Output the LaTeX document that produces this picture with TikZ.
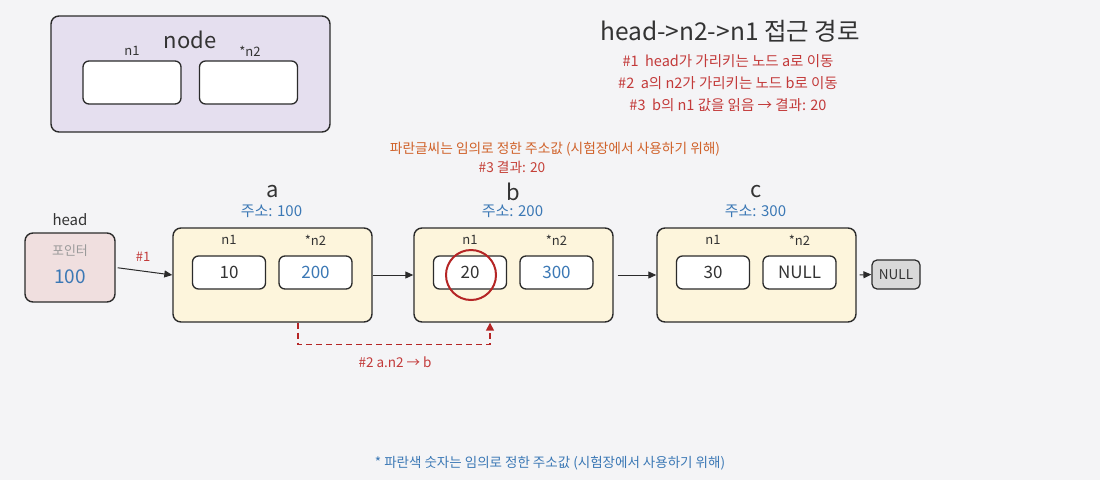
\documentclass[tikz,border=0pt]{standalone}
\usepackage{fontspec}
\setmainfont{Noto Sans CJK KR}
\usetikzlibrary{arrows.meta, positioning}

\definecolor{bgGray}{HTML}{F4F4F6}
\definecolor{lineDark}{HTML}{2B2B2B}
\definecolor{lavFill}{HTML}{E5DFEF}
\definecolor{creamFill}{HTML}{FDF5DC}
\definecolor{pinkFill}{HTML}{F0DFDF}
\definecolor{nullFill}{HTML}{D9D9D9}
\definecolor{addrBlue}{HTML}{3B78B5}
\definecolor{noteRed}{HTML}{C33A3A}
\definecolor{hitRed}{HTML}{B52525}
\definecolor{noteOrange}{HTML}{D0622A}
\definecolor{textDark}{HTML}{333333}
\definecolor{textGray}{HTML}{9A9A9A}

\begin{document}
\begin{tikzpicture}[x=1pt, y=-1pt,
		box/.style={draw=lineDark, line width=1.4pt, rounded corners=8pt},
		nodebox/.style={box, fill=creamFill, minimum width=199pt, minimum height=94pt},
		cell/.style={draw=lineDark, line width=1.3pt, rounded corners=6pt, fill=white,
			minimum width=73pt, minimum height=33pt, inner sep=0pt,
			font=\fontsize{17}{20}\selectfont},
		fieldlbl/.style={text=textDark, inner sep=0pt, font=\fontsize{13}{15}\selectfont},
		namelbl/.style={text=textDark, inner sep=0pt, font=\fontsize{22}{26}\selectfont},
		addrlbl/.style={text=addrBlue, inner sep=0pt, font=\fontsize{15}{18}\selectfont},
		redlbl/.style={text=noteRed, inner sep=0pt, font=\fontsize{14.5}{17}\selectfont},
		arr/.style={draw=lineDark, line width=1pt, -{Triangle[length=8pt,width=7pt]}}]
	
	% background and page size
	\fill[bgGray] (0,0) rectangle (1100,480);
	\useasboundingbox (0,0) rectangle (1100,480);
	
	% legend: layout of one node
	\node[box, fill=lavFill, minimum width=279pt, minimum height=116pt] (legend) at (190.5,74) {};
	\node[namelbl] (legendName) at (190,40) {node};
	\node[fieldlbl] (legendN1) at (132,51) {n1};
	\node[fieldlbl] (legendN2) at (250,51) {*n2};
	\node[cell, minimum width=98pt, minimum height=43pt] (legendCellA) at (132,82.5) {};
	\node[cell, minimum width=98pt, minimum height=43pt] (legendCellB) at (248.5,82.5) {};
	
	% title and steps
	\node[text=textDark, inner sep=0pt, font=\fontsize{24.5}{28}\selectfont] (title) at (730,31) {head->n2->n1 접근 경로};
	\node[redlbl] (step1) at (728,61) {\#1~~head가 가리키는 노드 a로 이동};
	\node[redlbl] (step2) at (728,83) {\#2~~a의 n2가 가리키는 노드 b로 이동};
	\node[redlbl] (step3) at (728,105) {\#3~~b의 n1 값을 읽음 → 결과: 20};
	
	\node[text=noteOrange, inner sep=0pt, font=\fontsize{13.7}{16}\selectfont] (blueNote) at (555,149) {파란글씨는 임의로 정한 주소값 (시험장에서 사용하기 위해)};
	\node[text=noteRed!85!noteOrange, inner sep=0pt, font=\fontsize{13.7}{16}\selectfont] (result) at (512,167) {\#3 결과: 20};
	
	% head pointer
	\node[fieldlbl, font=\fontsize{15}{18}\selectfont] (headLbl) at (70,220) {head};
	\node[box, fill=pinkFill, minimum width=90pt, minimum height=69pt] (head) at (70,267.5) {};
	\node[text=textGray, inner sep=0pt, font=\fontsize{13}{15}\selectfont] (headKind) at (70,251) {포인터};
	\node[text=addrBlue, inner sep=0pt, font=\fontsize{19}{22}\selectfont] (headVal) at (70,277) {100};
	
	% the three nodes
	\foreach \nm/\x/\addr/\va/\vb/\vbcol in {a/272.5/100/10/200/addrBlue, b/513.5/200/20/300/addrBlue, c/756.5/300/30/NULL/textDark} {
		\node[nodebox] (\nm) at (\x,275) {};
		\node[namelbl] (\nm-name) at (\x,192) {\nm};
		\node[addrlbl] (\nm-addr) at (\x-1,211) {주소: \addr};
		\node[fieldlbl] (\nm-lblA) at (\x-43.5,240) {n1};
		\node[fieldlbl] (\nm-lblB) at (\x+43,240) {*n2};
		\node[cell, text=textDark] (\nm-n1) at (\x-43.5,272.5) {\va};
		\node[cell, text=\vbcol] (\nm-n2) at (\x+43,272.5) {\vb};
	}
	
	\node[box, line width=1.2pt, rounded corners=5pt, fill=nullFill, minimum width=48pt, minimum height=29pt,
		inner sep=0pt, text=textDark, font=\fontsize{13.5}{15}\selectfont] (null) at (896,274.5) {NULL};
	
	% links
	\draw[arr, shorten <=2pt] (head.east) -- (a.west);
	\node[redlbl, font=\fontsize{13}{15}\selectfont] (step1Lbl) at (143,257) {\#1};
	\draw[arr] (a.east) -- (b.west);
	\draw[arr, shorten <=4pt] (b.east) -- (c.west);
	\draw[arr, shorten <=3pt] (c.east) -- (null.west);
	
	% a.n2 -> b
	\draw[hitRed, line width=1.5pt, dash pattern=on 6pt off 4pt, -{Triangle[length=8pt,width=8pt]}]
		([xshift=25.5pt]a.south) -- ++(0,22) -| ([xshift=-23.5pt]b.south);
	\node[redlbl, font=\fontsize{13.5}{16}\selectfont] (step2Lbl) at (395,362) {\#2 a.n2 → b};
	
	% value read
	\node[draw=hitRed, circle, line width=2pt, minimum size=50pt] (hit) at (471,275) {};
	
	% footnote
	\node[addrlbl, font=\fontsize{13.5}{16}\selectfont] (footnote) at (550,463) {* 파란색 숫자는 임의로 정한 주소값 (시험장에서 사용하기 위해)};
\end{tikzpicture}
\end{document}
